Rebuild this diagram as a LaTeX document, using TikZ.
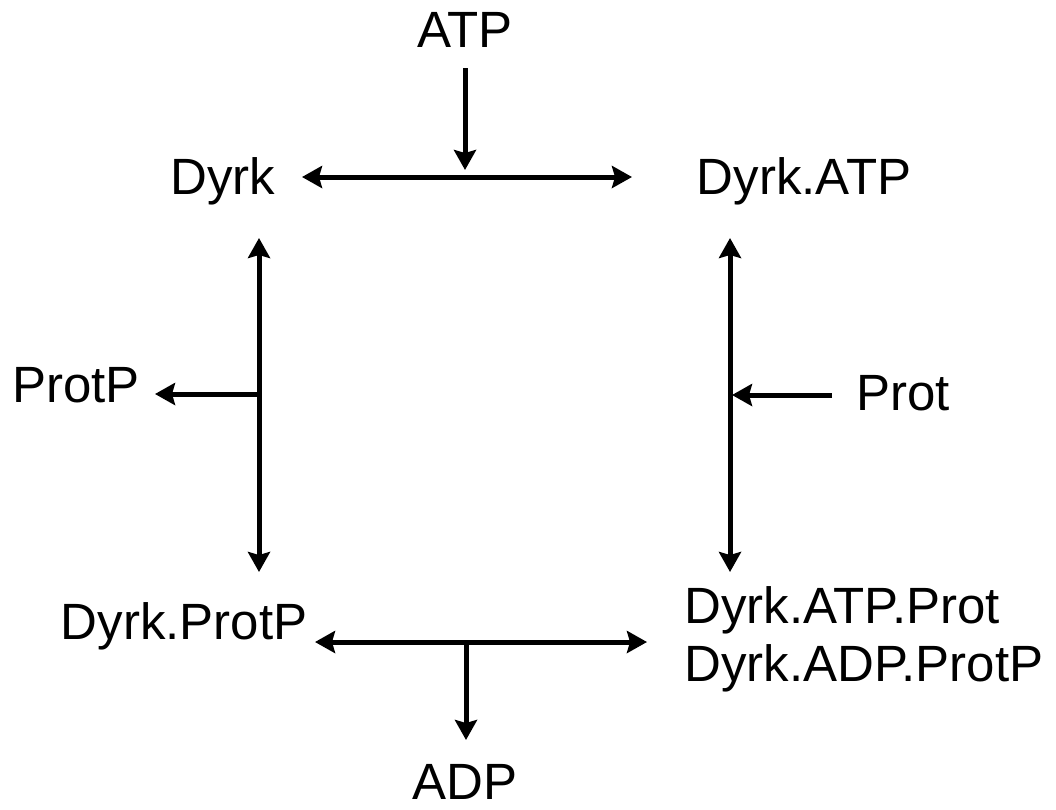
\documentclass[tikz,border=0pt]{standalone}
\usepackage{fontspec}
\setmainfont{Liberation Sans}
\usetikzlibrary{arrows.meta}
\begin{document}
\begin{tikzpicture}[x=1pt,y=-1pt,
  lbl/.style={inner sep=0pt,font=\fontsize{51}{58}\selectfont},
  conn/.style={line width=5pt,-{Stealth[length=20pt,width=22pt,inset=3pt]}},
  biconn/.style={line width=5pt,{Stealth[length=20pt,width=22pt,inset=3pt]}-{Stealth[length=20pt,width=22pt,inset=3pt]}}]
\useasboundingbox (0,0) rectangle (1056,809);
\node[lbl] (atp) at (465,30) {ATP};
\node[lbl] (dyrk) at (223,181) {Dyrk};
\node[lbl] (dyrkatp) at (804,181) {Dyrk.ATP};
\node[lbl] (protp) at (76,385) {ProtP};
\node[lbl] (prot) at (903,393) {Prot};
\node[lbl] (dyrkprotp) at (184,626) {Dyrk.ProtP};
\node[lbl,align=left,anchor=west] (complex) at (684,639) {Dyrk.ATP.Prot\\Dyrk.ADP.ProtP};
\node[lbl] (adp) at (465,782) {ADP};
% top reaction
\coordinate (t1) at (302,177);
\coordinate (t2) at (632,177);
\coordinate (tm) at (465,177);
\draw[biconn] (t1) -- (t2);
\coordinate (ta) at (465,68);
\draw[conn] (ta) -- (465,170);
% left reaction
\coordinate (l1) at (259,238);
\coordinate (l2) at (259,572);
\coordinate (lm) at (259,394);
\draw[biconn] (l1) -- (l2);
\draw[conn] (lm) -- (155,394);
% right reaction
\coordinate (r1) at (730,238);
\coordinate (r2) at (730,572);
\draw[biconn] (r1) -- (r2);
\coordinate (rp) at (832,395);
\draw[conn] (rp) -- (732,395);
% bottom reaction
\coordinate (b1) at (315,642);
\coordinate (b2) at (647,642);
\coordinate (bm) at (466,642);
\draw[biconn] (b1) -- (b2);
\draw[conn] (bm) -- (466,740);
\end{tikzpicture}
\end{document}
